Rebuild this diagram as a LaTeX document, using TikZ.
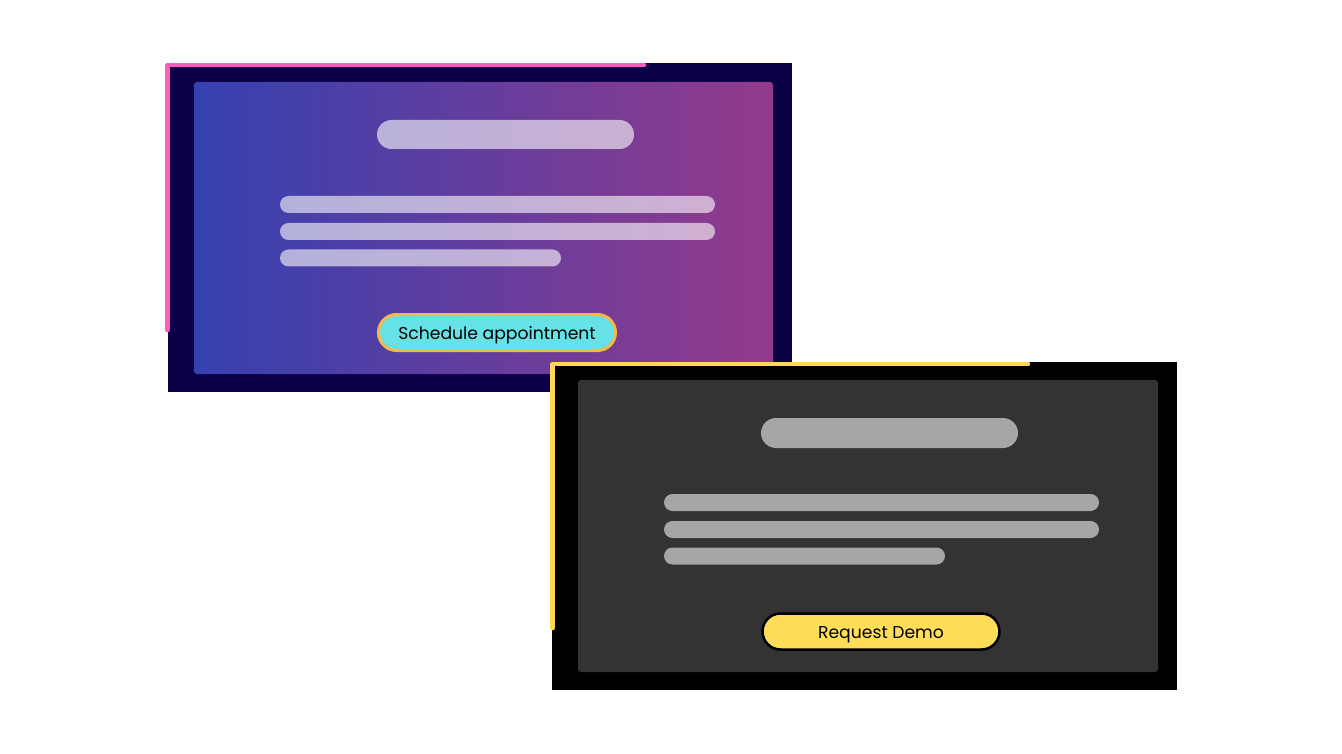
\documentclass[tikz,border=0pt]{standalone}
\usepackage{fontspec}
\setmainfont{Poppins}
\definecolor{navy}{HTML}{0C0047}
\definecolor{gradL}{HTML}{3541B0}
\definecolor{gradR}{HTML}{933A8B}
\definecolor{pinkacc}{HTML}{FF5CBE}
\definecolor{yellowacc}{HTML}{FFD94F}
\definecolor{cyanbtn}{HTML}{66E1E5}
\definecolor{orangebd}{HTML}{F4BA45}
\definecolor{darkpanel}{HTML}{333333}
\definecolor{graybar}{HTML}{A6A6A6}
\definecolor{yellowbtn}{HTML}{FFDD58}
\tikzset{
  panel/.style={rectangle, inner sep=0pt, outer sep=0pt, anchor=north west},
  pill/.style={rectangle, inner sep=0pt, outer sep=0pt, minimum height=#1, rounded corners=#1/2},
  lightbar/.style={pill=#1, fill=white, fill opacity=0.6},
  greybar/.style={pill=#1, fill=graybar},
  accent/.style={line width=4.5pt, line cap=round, line join=round},
  btntext/.style={font=\fontsize{17.2}{19}\selectfont, text=black, text opacity=1, text height=15pt, text depth=2pt}
}
\begin{document}
\begin{tikzpicture}[x=1pt, y=-1pt]
\useasboundingbox (0,0) rectangle (1342,754);
\fill[white] (0,0) rectangle (1342,754);
% ---- panel 1 ----
\node[panel, fill=navy, minimum width=624pt, minimum height=329pt] (p1) at (168,63) {};
\node[panel, left color=gradL, right color=gradR, rounded corners=3pt, minimum width=579pt, minimum height=292pt] (p1in) at (194,82) {};
\coordinate (pa) at (167.5,330);
\coordinate (pb) at (167.5,65);
\coordinate (pc) at (644,65);
\draw[accent, pinkacc] (pa) -- (pb) -- (pc);
\node[lightbar=29pt, minimum width=257pt] (t1) at (505.5,134.5) {};
\node[lightbar=17pt, minimum width=435pt] (l1a) at (497.5,204.5) {};
\node[lightbar=17pt, minimum width=435pt] (l1b) at (497.5,231.5) {};
\node[lightbar=17pt, minimum width=281pt] (l1c) at (420.5,258) {};
\node[pill=36pt, minimum width=237pt, fill=cyanbtn, draw=orangebd, line width=3pt, btntext] (b1) at (497,332.5) {Schedule appointment};
% ---- panel 2 ----
\node[panel, fill=black, minimum width=625pt, minimum height=328pt] (p2) at (552,362) {};
\node[panel, fill=darkpanel, rounded corners=3pt, minimum width=580pt, minimum height=292pt] (p2in) at (578,380) {};
\coordinate (ya) at (552.5,628);
\coordinate (yb) at (552.5,364);
\coordinate (yc) at (1028,364);
\draw[accent, yellowacc] (ya) -- (yb) -- (yc);
\node[greybar=30pt, minimum width=257pt] (t2) at (889.5,433) {};
\node[greybar=17pt, minimum width=435pt] (l2a) at (881.5,502.5) {};
\node[greybar=17pt, minimum width=435pt] (l2b) at (881.5,529.5) {};
\node[greybar=17pt, minimum width=281pt] (l2c) at (804.5,556) {};
\node[pill=36pt, minimum width=237pt, fill=yellowbtn, draw=black, line width=2.5pt, btntext] (b2) at (881,631.5) {Request Demo};
\end{tikzpicture}
\end{document}
